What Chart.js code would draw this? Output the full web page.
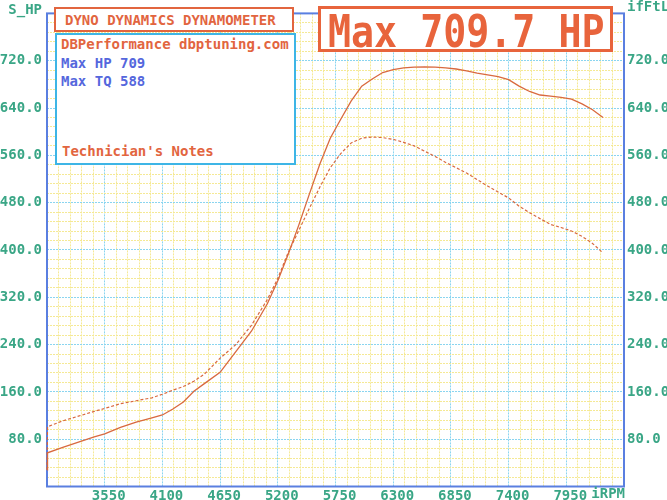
<!DOCTYPE html>
<html><head><meta charset="utf-8">
<script src="https://cdn.jsdelivr.net/npm/chart.js@4.4.0/dist/chart.umd.min.js"></script>
<style>
html,body{margin:0;padding:0;background:#fff;}
#wrap{position:relative;width:667px;height:500px;overflow:hidden;background:#fff;}
#c{position:absolute;left:0;top:0;}
.box{position:absolute;box-sizing:border-box;background:#fff;font-family:"DejaVu Sans Mono",monospace;font-weight:bold;}
.ln{position:absolute;white-space:pre;font-size:14px;line-height:14px;}
</style></head>
<body><div id="wrap">
<canvas id="c" width="667" height="500"></canvas>
<div class="box" style="left:54px;top:7px;width:240px;height:25px;border:2.5px solid #e2653f;">
  <div class="ln" style="left:9px;top:4px;color:#e2653f;">DYNO DYNAMICS DYNAMOMETER</div>
</div>
<div class="box" style="left:55px;top:33px;width:241px;height:132px;border:2.5px solid #3db5e6;">
  <div class="ln" style="left:4px;top:2px;color:#e2653f;">DBPerformance dbptuning.com</div>
  <div class="ln" style="left:4px;top:21px;color:#5567dd;">Max HP 709</div>
  <div class="ln" style="left:4px;top:39px;color:#5567dd;">Max TQ 588</div>
  <div class="ln" style="left:5px;top:109px;color:#e2653f;">Technician's Notes</div>
</div>
<div class="box" style="left:318px;top:6px;width:295px;height:46px;border:3px solid #e8643c;">
  <div class="ln" style="left:7px;top:1px;font-size:44px;line-height:44px;color:#e8643c;transform:scaleX(0.87);transform-origin:0 0;">Max 709.7 HP</div>
</div>
</div>
<script>
const rpm = [3000,3005,3150,3300,3450,3550,3700,3850,4000,4100,4200,4300,4400,4500,4650,4800,4950,5100,5200,5300,5400,5500,5600,5700,5800,5900,6000,6100,6200,6300,6400,6500,6600,6700,6800,6900,7000,7100,7200,7300,7400,7500,7600,7700,7800,7900,8000,8100,8200,8300];
const hp = [28,57,66,75,84,89,100,109,116,121,131,143,161,174,193,228,263,309,348,393,442,494,545,589,621,652,677,689,700,705,708,709,709.7,709,708,706,703,699,696,693,688,677,668,662,660,658,655,647,637,624];
const tq = [28,101,111,119,127,132,140,145,150,156,163,169,178,190,217,240,273,316,352,396,433,470,506,539,563,581,589,591,590,587,582,576,567,558,548,539,530,519,508,498,488,474,463,453,443,438,432,423,411,395];
const xTickLabels = [3550,4100,4650,5200,5750,6300,6850,7400,7950];
const yTickLabels = [80,160,240,320,400,480,560,640,720];
const xMin = 3000, xMax = 8500, xMinor = 110, xMajor = 550;
const yMin = 0, yMax = 800, yMinor = 16, yMajor = 80;

const TEAL = '#3aa686';
const CYAN = '#8ad5f0';
const YEL = '#f5e995';
const LINE = '#d9693f';
const FONT = {family:'"DejaVu Sans Mono", monospace', size:14, weight:'bold'};

const frame = {
  id:'frame',
  beforeDatasetsDraw(chart){
    const {ctx, chartArea:a} = chart;
    ctx.save();
    ctx.strokeStyle = '#5a7fe0'; ctx.lineWidth = 2;
    ctx.strokeRect(a.left, a.top, a.right - a.left, a.bottom - a.top);
    ctx.restore();
  },
  afterDraw(chart){
    const {ctx, chartArea:a} = chart;
    ctx.save();
    ctx.font = 'bold 14px "DejaVu Sans Mono", monospace';
    ctx.fillStyle = TEAL;
    ctx.textBaseline = 'middle';
    ctx.textAlign = 'right'; ctx.fillText('S_HP', 42, 10);
    ctx.textAlign = 'left'; ctx.fillText('ifFtL', 627, 7);
    ctx.textAlign = 'right'; ctx.fillText('iRPM', a.right + 1, 494);
    ctx.restore();
  }
};

new Chart(document.getElementById('c'), {
  type:'line',
  data:{datasets:[
    {label:'HP', data: rpm.map((r,i)=>({x:r,y:hp[i]})), borderColor:LINE, borderWidth:1.3, pointRadius:0, tension:0, fill:false, clip:false},
    {label:'TQ', data: rpm.map((r,i)=>({x:r,y:tq[i]})), borderColor:LINE, borderWidth:1.2, borderDash:[3,2], pointRadius:0, tension:0, fill:false, clip:false}
  ]},
  options:{
    responsive:false, animation:false, devicePixelRatio:1,
    layout:{padding:{top:2,left:0,right:0,bottom:0}},
    plugins:{legend:{display:false}, tooltip:{enabled:false}},
    scales:{
      x:{type:'linear', min:xMin, max:xMax,
        afterBuildTicks(s){ const t=[]; for(let v=xMin; v<=xMax; v+=xMinor) t.push({value:v}); s.ticks=t; },
        afterFit(s){ s.height = 13.5; },
        ticks:{autoSkip:false, maxRotation:0, padding:1, labelOffset:4, color:TEAL, font:FONT,
          callback:(v)=> xTickLabels.includes(v) ? String(v) : ''},
        grid:{drawTicks:false, lineWidth:1, color:(c)=> ((c.tick.value - xMin) % xMajor === 0) ? CYAN : YEL},
        border:{display:false, dash:[2,1]}
      },
      y:{type:'linear', position:'left', min:yMin, max:yMax,
        afterFit(s){ s.width = 47; },
        ticks:{stepSize:yMinor, autoSkip:false, padding:5, color:TEAL, font:FONT,
          callback:(v)=> yTickLabels.includes(v) ? v.toFixed(1) : ''},
        grid:{drawTicks:false, lineWidth:1, color:(c)=> (c.tick.value % yMajor === 0) ? CYAN : YEL},
        border:{display:false, dash:[2,1]}
      },
      y2:{type:'linear', position:'right', min:yMin, max:yMax,
        afterFit(s){ s.width = 43; },
        ticks:{stepSize:yMinor, autoSkip:false, padding:3, color:TEAL, font:FONT,
          callback:(v)=> yTickLabels.includes(v) ? v.toFixed(1) : ''},
        grid:{drawOnChartArea:false, drawTicks:false},
        border:{display:false}
      }
    }
  },
  plugins:[frame]
});
</script>
</body></html>
